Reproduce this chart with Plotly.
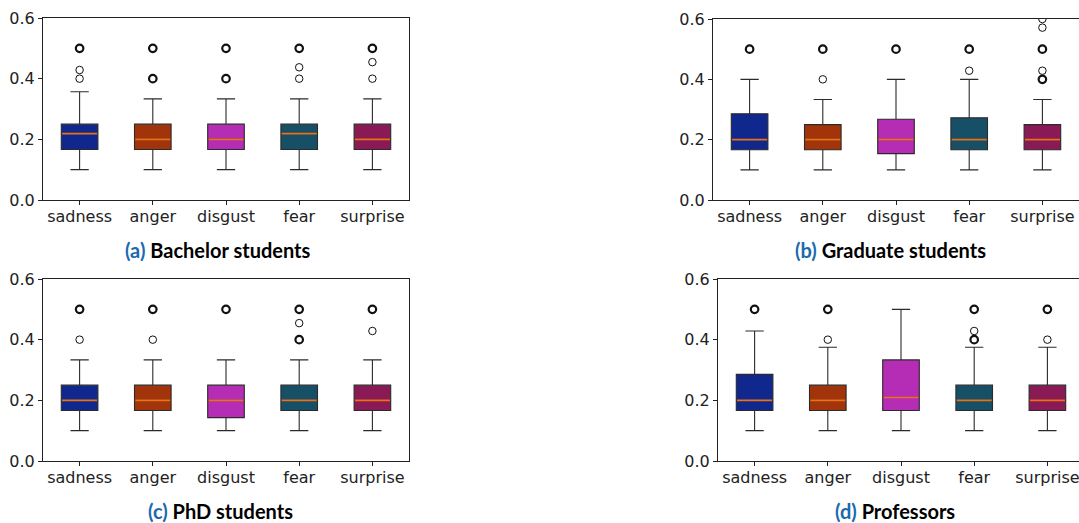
import plotly.graph_objects as go
from collections import Counter

# ---------------- data ----------------
emotions = ["sadness", "anger", "disgust", "fear", "surprise"]
box_colors = ["#10288e", "#a1340a", "#b42db4", "#174f66", "#8a1a55"]

panel_letters = ["(a)", "(b)", "(c)", "(d)"]
panel_titles = ["Bachelor students", "Graduate students", "PhD students", "Professors"]

# per panel, per emotion
q1_a = [0.1667, 0.1667, 0.1667, 0.1667, 0.1667]
med_a = [0.2188, 0.2, 0.2, 0.2188, 0.2]
q3_a = [0.25, 0.25, 0.25, 0.25, 0.25]
lo_a = [0.1, 0.1, 0.1, 0.1, 0.1]
hi_a = [0.3571, 0.3333, 0.3333, 0.3333, 0.3333]
out_a = [[0.5, 0.5, 0.4286, 0.4], [0.5, 0.5, 0.4, 0.4], [0.5, 0.5, 0.4, 0.4],
         [0.5, 0.5, 0.4375, 0.4], [0.5, 0.5, 0.4545, 0.4]]

q1_b = [0.1667, 0.1667, 0.1538, 0.1667, 0.1667]
med_b = [0.2, 0.2, 0.2, 0.2, 0.2]
q3_b = [0.2857, 0.25, 0.2679, 0.2727, 0.25]
lo_b = [0.1, 0.1, 0.1, 0.1, 0.1]
hi_b = [0.4, 0.3333, 0.4, 0.4, 0.3333]
out_b = [[0.5, 0.5], [0.5, 0.5, 0.4], [0.5, 0.5], [0.5, 0.5, 0.4286],
         [0.6, 0.5714, 0.5, 0.5, 0.4286, 0.4, 0.4]]

q1_c = [0.1667, 0.1667, 0.1429, 0.1667, 0.1667]
med_c = [0.2, 0.2, 0.2, 0.2, 0.2]
q3_c = [0.25, 0.25, 0.25, 0.25, 0.25]
lo_c = [0.1, 0.1, 0.1, 0.1, 0.1]
hi_c = [0.3333, 0.3333, 0.3333, 0.3333, 0.3333]
out_c = [[0.5, 0.5, 0.4], [0.5, 0.5, 0.4], [0.5, 0.5], [0.5, 0.5, 0.4545, 0.4, 0.4],
         [0.5, 0.5, 0.4286]]

q1_d = [0.1667, 0.1667, 0.1667, 0.1667, 0.1667]
med_d = [0.2, 0.2, 0.2095, 0.2, 0.2]
q3_d = [0.2857, 0.25, 0.3333, 0.25, 0.25]
lo_d = [0.1, 0.1, 0.1, 0.1, 0.1]
hi_d = [0.4286, 0.375, 0.5, 0.375, 0.375]
out_d = [[0.5, 0.5], [0.5, 0.5, 0.4], [], [0.5, 0.5, 0.4286, 0.4, 0.4], [0.5, 0.5, 0.4]]

y_ticks = [0.0, 0.2, 0.4, 0.6]

# ---------------- layout ----------------
W, H = 1079, 523
panels = [
    dict(q1=q1_a, med=med_a, q3=q3_a, lo=lo_a, hi=hi_a, out=out_a,
         px=(43, 409), py=(18, 200), cap=(218, 250)),
    dict(q1=q1_b, med=med_b, q3=q3_b, lo=lo_b, hi=hi_b, out=out_b,
         px=(713, 1079), py=(19, 200), cap=(890, 250)),
    dict(q1=q1_c, med=med_c, q3=q3_c, lo=lo_c, hi=hi_c, out=out_c,
         px=(43, 409), py=(279, 461), cap=(220, 511)),
    dict(q1=q1_d, med=med_d, q3=q3_d, lo=lo_d, hi=hi_d, out=out_d,
         px=(718, 1084), py=(279, 461), cap=(895, 511)),
]

BOX_W = 0.5
EDGE = "#2b2b2b"
MEDIAN = "#ec7016"
CAP_BLUE = "#1a6aad"
FONT = "DejaVu Sans"

fig = go.Figure()
layout_axes = {}
annotations = []

for i, p in enumerate(panels):
    n = i + 1
    xa = "x" if n == 1 else f"x{n}"
    ya = "y" if n == 1 else f"y{n}"
    positions = list(range(1, len(emotions) + 1))
    for j, emo in enumerate(emotions):
        x = positions[j]
        fig.add_trace(go.Box(
            x=[x], q1=[p["q1"][j]], median=[p["med"][j]], q3=[p["q3"][j]],
            lowerfence=[p["lo"][j]], upperfence=[p["hi"][j]],
            width=BOX_W, whiskerwidth=0.5, fillcolor=box_colors[j],
            line=dict(color=EDGE, width=1.1), boxpoints=False,
            xaxis=xa, yaxis=ya, showlegend=False, hoverinfo="skip",
        ))
        fig.add_trace(go.Scatter(
            x=[x - BOX_W / 2 + 0.01, x + BOX_W / 2 - 0.01],
            y=[p["med"][j], p["med"][j]], mode="lines",
            line=dict(color=MEDIAN, width=1.6),
            xaxis=xa, yaxis=ya, showlegend=False, hoverinfo="skip",
        ))
        cnt = Counter(p["out"][j])
        if cnt:
            vals = list(cnt.keys())
            fig.add_trace(go.Scatter(
                x=[x] * len(vals), y=vals, mode="markers",
                marker=dict(symbol="circle-open", size=7.5, color="#111",
                            line=dict(width=[2.2 if cnt[v] > 1 else 1.0 for v in vals],
                                      color="#111")),
                cliponaxis=True,
                xaxis=xa, yaxis=ya, showlegend=False, hoverinfo="skip",
            ))

    x0, x1 = p["px"]
    y0, y1 = p["py"]
    span_px = 366.0
    dom_x1 = min(x1, W)
    xr_hi = 0.5 + 5 * (dom_x1 - x0) / span_px
    mirror = x1 <= 410
    ax_common = dict(showgrid=False, zeroline=False, showline=True, automargin=False,
                     linecolor="#222", linewidth=1, ticks="outside", ticklen=4,
                     tickcolor="#222", tickwidth=1, ticklabeloverflow="allow",
                     tickfont=dict(family=FONT, size=16, color="#222"))
    layout_axes["xaxis" if n == 1 else f"xaxis{n}"] = dict(
        domain=[x0 / W, dom_x1 / W], range=[0.5, xr_hi],
        tickvals=positions, ticktext=emotions, mirror=True,
        ticklabelstandoff=-2,
        anchor=ya, **ax_common)
    layout_axes["yaxis" if n == 1 else f"yaxis{n}"] = dict(
        domain=[1 - y1 / H, 1 - y0 / H], range=[0, 0.6],
        tickvals=y_ticks, tickformat=".1f", mirror=mirror,
        anchor=xa, **ax_common)

    cx, cy = p["cap"]
    annotations.append(dict(
        x=cx / W, y=1 - cy / H, xref="paper", yref="paper",
        xanchor="center", yanchor="middle", showarrow=False,
        text=f"<b><span style='color:{CAP_BLUE}'>{panel_letters[i]}</span> {panel_titles[i]}</b>",
        font=dict(family="Lato", size=20, color="#000"),
    ))

fig.update_layout(
    width=W, height=H, margin=dict(l=0, r=0, t=0, b=0, autoexpand=False),
    paper_bgcolor="white", plot_bgcolor="white",
    annotations=annotations, **layout_axes,
)

fig.write_html(
    "out.html",
    config={"displayModeBar": False, "staticPlot": True},
    post_script="document.body.style.margin='0';document.body.style.overflow='hidden';",
)
